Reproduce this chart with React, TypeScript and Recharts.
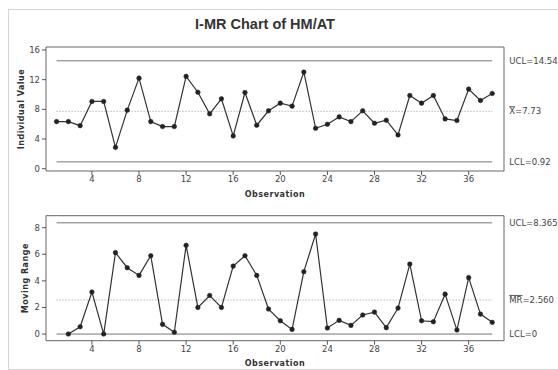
import React from 'react';
import { LineChart, Line, XAxis, YAxis, ReferenceLine, ReferenceArea, Label } from 'recharts';

const observations = [1,2,3,4,5,6,7,8,9,10,11,12,13,14,15,16,17,18,19,20,21,22,23,24,25,26,27,28,29,30,31,32,33,34,35,36,37,38];
const individualValues = [6.35,6.35,5.8,9.06,9.06,2.88,7.89,12.2,6.35,5.68,5.68,12.44,10.3,7.39,9.42,4.42,10.27,5.86,7.8,8.83,8.43,13.02,5.45,5.99,6.98,6.35,7.8,6.13,6.53,4.55,9.87,8.83,9.87,6.71,6.49,10.72,9.19,10.14];
const movingRanges: (number | null)[] = [null,0,0.55,3.16,0,6.12,4.99,4.41,5.89,0.73,0.13,6.67,2.0,2.9,2.0,5.11,5.89,4.41,1.88,1.0,0.35,4.69,7.52,0.45,1.03,0.65,1.43,1.65,0.48,1.95,5.26,1.0,0.93,3.0,0.3,4.24,1.5,0.88];

const I_UCL = 14.54, I_MEAN = 7.73, I_LCL = 0.92;
const MR_UCL = 8.365, MR_MEAN = 2.56, MR_LCL = 0;

const xTicks = [4,8,12,16,20,24,28,32,36];
const iTicks = [0,4,8,12,16];
const mrTicks = [0,2,4,6,8];
const X_DOMAIN: [number, number] = [0.1, 39];
const I_DOMAIN: [number, number] = [-0.31, 16.4];
const MR_DOMAIN: [number, number] = [-0.5, 8.9];

const iData = observations.map((o, i) => ({ obs: o, value: individualValues[i] }));
const mrData = observations.map((o, i) => ({ obs: o, value: movingRanges[i] }));

const FONT = 'DejaVu Sans';
const tickStyle = { fontSize: 8.5, fill: '#444', fontFamily: FONT };

const RLabel = (props: any) => {
  const { viewBox, prefix, over, rest } = props;
  if (!viewBox) return null;
  const x = viewBox.x + viewBox.width + 17;
  const y = viewBox.y;
  return (
    <text x={x} y={y} dy="0.35em" fontSize={8.5} fill="#444" fontFamily={FONT}>
      {prefix}
      {over ? <tspan style={{ textDecoration: 'overline' }}>{over}</tspan> : null}
      {rest}
    </text>
  );
};

const limitLine = (y: number, solid: boolean, label: React.ReactElement) => (
  <ReferenceLine
    segment={[{ x: observations[0], y }, { x: observations[observations.length - 1], y }]}
    stroke={solid ? '#777' : '#999'}
    strokeWidth={1}
    strokeDasharray={solid ? undefined : '1 2'}
    label={label}
    ifOverflow="visible"
  />
);

const axisTitleStyle = { fontSize: 8, fontWeight: 700, fill: '#333', fontFamily: FONT, letterSpacing: 0.5 };

export default function App() {
  return (
    <div style={{ position: 'absolute', left: 0, top: 0, width: 558, height: 370, background: '#fff', overflow: 'hidden' }}>
      <div style={{ position: 'absolute', left: 8, top: 9, width: 560, height: 359, border: '1px solid #d4d4d4' }} />
      <div style={{ position: 'absolute', left: 0, width: 530, top: 16, textAlign: 'center', fontFamily: 'Liberation Sans', fontWeight: 700, fontSize: 14.5, color: '#333' }}>
        I-MR Chart of HM/AT
      </div>
      <div style={{ position: 'absolute', left: 0, top: 0 }}>
        <LineChart width={558} height={200} data={iData} margin={{ top: 47, right: 54, bottom: 3, left: 16 }}>
          <XAxis dataKey="obs" type="number" domain={X_DOMAIN} ticks={xTicks} axisLine={false} tickSize={4} tickMargin={1} tick={tickStyle} stroke="#555" height={26}>
            <Label value="Observation" position="insideBottom" offset={0} style={axisTitleStyle} />
          </XAxis>
          <YAxis type="number" domain={I_DOMAIN} ticks={iTicks} axisLine={false} tickSize={4} tickMargin={2} tick={tickStyle} stroke="#555" width={30}>
            <Label value="Individual Value" angle={-90} position="center" dx={-10} style={axisTitleStyle} />
          </YAxis>
          <ReferenceArea x1={X_DOMAIN[0]} x2={X_DOMAIN[1]} y1={I_DOMAIN[0]} y2={I_DOMAIN[1]} fill="none" stroke="#666" strokeWidth={1} ifOverflow="visible" />
          {limitLine(I_UCL, true, <RLabel prefix={`UCL=${I_UCL}`} />)}
          {limitLine(I_MEAN, false, <RLabel over="X" rest={`=${I_MEAN}`} />)}
          {limitLine(I_LCL, true, <RLabel prefix={`LCL=${I_LCL}`} />)}
          <Line dataKey="value" stroke="#333" strokeWidth={1.2} dot={{ r: 2.3, fill: '#222', stroke: '#222', strokeWidth: 0.5 }} isAnimationActive={false} />
        </LineChart>
      </div>
      <div style={{ position: 'absolute', left: 0, top: 170 }}>
        <LineChart width={558} height={200} data={mrData} margin={{ top: 45.7, right: 54, bottom: 3.3, left: 16 }}>
          <XAxis dataKey="obs" type="number" domain={X_DOMAIN} ticks={xTicks} axisLine={false} tickSize={4} tickMargin={1} tick={tickStyle} stroke="#555" height={26}>
            <Label value="Observation" position="insideBottom" offset={1} style={axisTitleStyle} />
          </XAxis>
          <YAxis type="number" domain={MR_DOMAIN} ticks={mrTicks} axisLine={false} tickSize={4} tickMargin={2} tick={tickStyle} stroke="#555" width={30}>
            <Label value="Moving Range" angle={-90} position="center" dx={-6} style={axisTitleStyle} />
          </YAxis>
          <ReferenceArea x1={X_DOMAIN[0]} x2={X_DOMAIN[1]} y1={MR_DOMAIN[0]} y2={MR_DOMAIN[1]} fill="none" stroke="#666" strokeWidth={1} ifOverflow="visible" />
          {limitLine(MR_UCL, true, <RLabel prefix={`UCL=${MR_UCL}`} />)}
          {limitLine(MR_MEAN, false, <RLabel over="MR" rest="=2.560" />)}
          {limitLine(MR_LCL, true, <RLabel prefix={`LCL=${MR_LCL}`} />)}
          <Line dataKey="value" stroke="#333" strokeWidth={1.2} connectNulls={false} dot={{ r: 2.3, fill: '#222', stroke: '#222', strokeWidth: 0.5 }} isAnimationActive={false} />
        </LineChart>
      </div>
    </div>
  );
}
